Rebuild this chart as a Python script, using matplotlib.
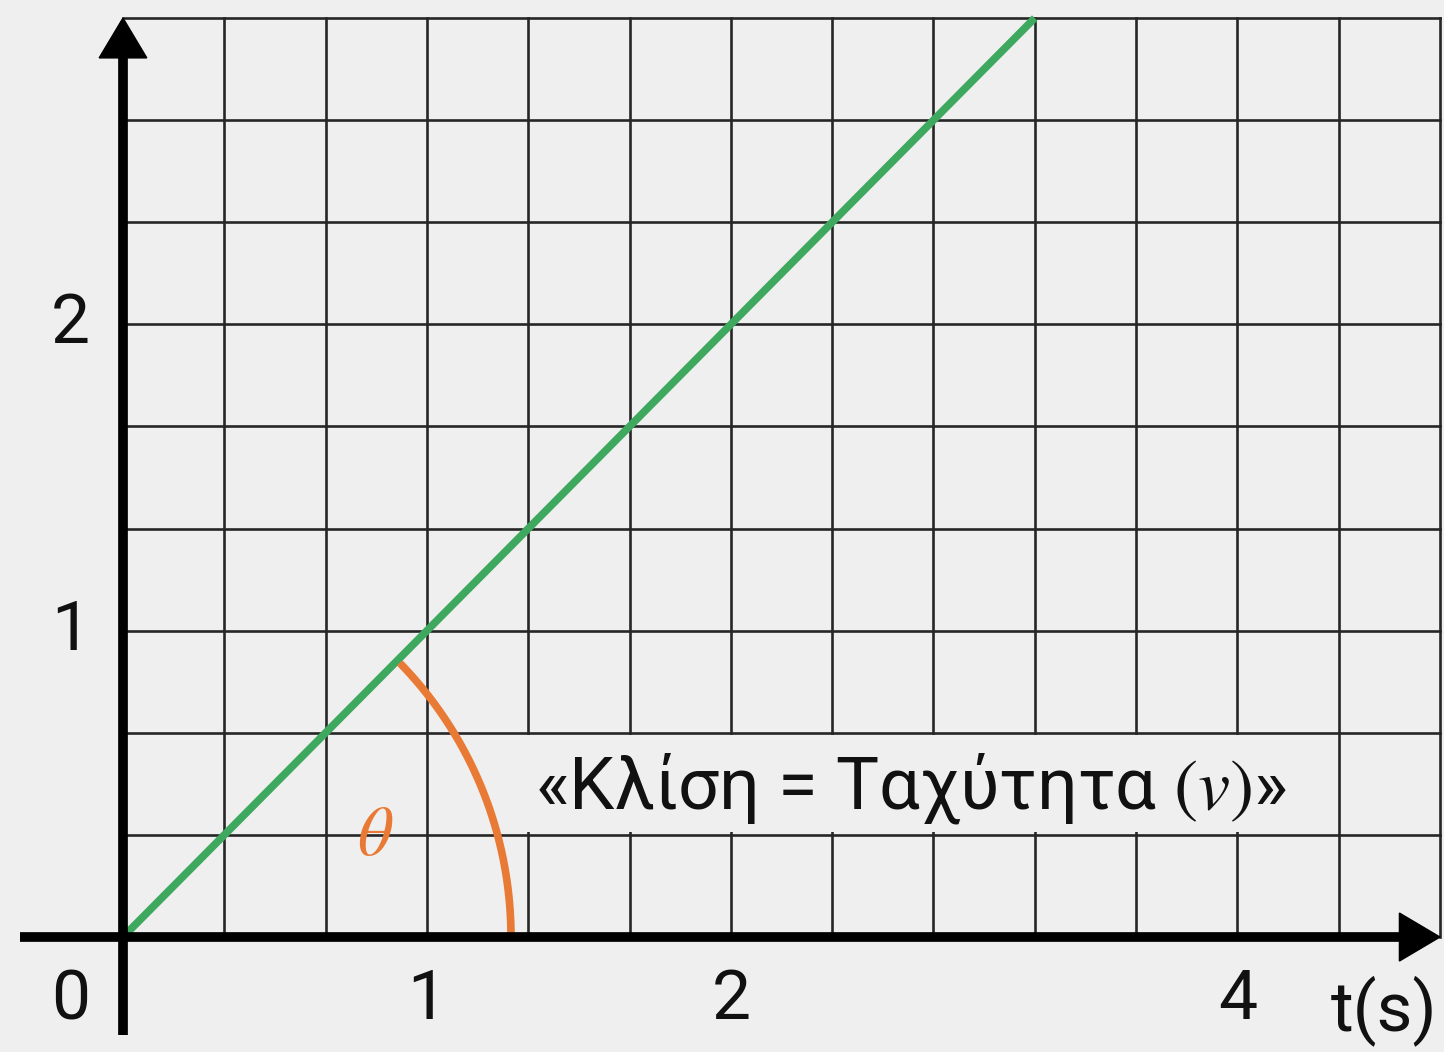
import matplotlib
matplotlib.use('Agg')
import matplotlib.pyplot as plt
from matplotlib.patches import Rectangle
import numpy as np

plt.rcParams['font.family'] = ['Roboto', 'DejaVu Sans']
plt.rcParams['mathtext.fontset'] = 'stix'

# grid (in cell units): 13 cells wide, 9 cells high
grid_cols = 13
grid_rows = 9

# position-time line (cell units)
line_t = [0, 9]
line_x = [0, 9]

# angle arc
arc_radius = 3.83
arc_start_deg = 0.4
arc_end_deg = 44.5

# tick labels (positions in cell units)
x_tick_pos = [3, 6, 11]
x_tick_labels = ['1', '2', '4']
y_tick_pos = [3, 6]
y_tick_labels = ['1', '2']

BG = '#efefef'
GRID = '#262626'
GREEN = '#3ea85f'
ORANGE = '#e87a35'
INK = '#111111'

fig = plt.figure(figsize=(14.44, 10.52), dpi=100)
fig.patch.set_facecolor(BG)
ax = fig.add_axes([0, 0, 1, 1])
ax.set_facecolor(BG)
ax.set_xlim(-1.214, 13.04)
ax.set_ylim(-1.126, 9.177)
ax.axis('off')

# grid
for i in range(1, grid_cols + 1):
    ax.plot([i, i], [0, grid_rows], color=GRID, lw=1.9, zorder=1)
for j in range(1, grid_rows + 1):
    ax.plot([0, grid_cols], [j, j], color=GRID, lw=1.9, zorder=1)

# axes with arrowheads
ax.plot([0, 0], [-0.96, 8.7], color='black', lw=7, solid_capstyle='butt', zorder=4)
ax.plot([-1.02, 12.7], [0, 0], color='black', lw=7, solid_capstyle='butt', zorder=4)
ax.fill([-0.235, 0.235, 0], [9.0 - 0.39, 9.0 - 0.39, 9.0], color='black', zorder=5)
ax.fill([13.0 - 0.40, 13.0 - 0.40, 13.0], [-0.235, 0.235, 0], color='black', zorder=5)

# line
ax.plot(line_t, line_x, color=GREEN, lw=5.5, solid_capstyle='butt', zorder=3)

# angle arc
ang = np.radians(np.linspace(arc_start_deg, arc_end_deg, 100))
ax.plot(arc_radius * np.cos(ang), arc_radius * np.sin(ang), color=ORANGE, lw=5.5,
        solid_capstyle='butt', zorder=3)
ax.text(2.49, 0.99, r'$\theta$', color=ORANGE, fontsize=50, ha='center', va='center', zorder=6)

# annotation, with a background patch hiding the grid cells behind it
ax.add_patch(Rectangle((3.93, 1.025), 8.0, 0.95, facecolor=BG, edgecolor='none', zorder=2))
ax.text(7.78, 1.45, '«Κλίση = Ταχύτητα $(v)$»', fontsize=52, ha='center', va='center',
        color=INK, zorder=6)

# tick labels
for p, lab in zip(x_tick_pos, x_tick_labels):
    ax.text(p, -0.62, lab, fontsize=50, ha='center', va='center', color=INK)
for p, lab in zip(y_tick_pos, y_tick_labels):
    ax.text(-0.52, p, lab, fontsize=50, ha='center', va='center', color=INK)
ax.text(-0.52, -0.62, '0', fontsize=50, ha='center', va='center', color=INK)
ax.text(12.45, -0.72, 't(s)', fontsize=50, ha='center', va='center', color=INK)

fig.savefig('out.png', dpi=100, facecolor=BG)
